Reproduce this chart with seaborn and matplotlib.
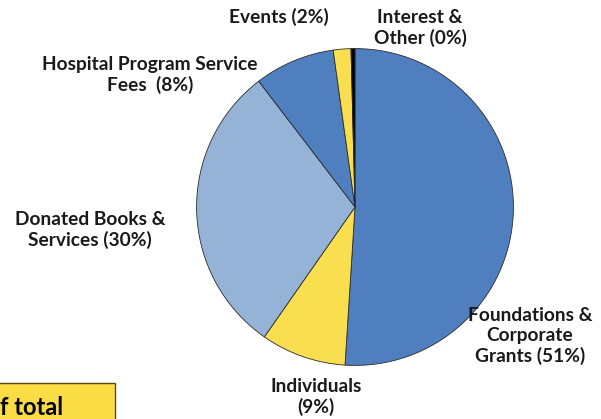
import matplotlib
matplotlib.use("Agg")
import seaborn as sns
import matplotlib.pyplot as plt
from matplotlib.patches import Rectangle

sns.set_theme(style="white")
plt.rcParams['font.family'] = ['Lato', 'DejaVu Sans']

# revenue shares, clockwise from 12 o'clock
sources = ["Foundations & Corporate Grants", "Individuals", "Donated Books & Services",
           "Hospital Program Service Fees", "Events", "Interest & Other"]
shares = [51.0, 8.7, 29.9, 8.2, 1.8, 0.4]
colors = ["#4f7fbf", "#f9de4f", "#95b3d7", "#4f7fbf", "#f9de4f", "#000000"]

# label text and where it sits (pixels in the 601x419 picture)
label_text = ["Foundations &\nCorporate\nGrants (51%)", "Individuals\n(9%)",
              "Donated Books &\nServices (30%)", "Hospital Program Service\nFees  (8%)",
              "Events (2%)", "Interest &\nOther (0%)"]
label_x = [530, 316, 90, 150, 279, 420]
label_y = [336, 397, 230, 75, 17, 28]

W, H = 601, 419
fig = plt.figure(figsize=(W / 100, H / 100), dpi=100)
fig.patch.set_facecolor("white")

cx, cy, r = 355, 207, 160
ax = fig.add_axes([(cx - r) / W, (H - cy - r) / H, 2 * r / W, 2 * r / H])
ax.pie(shares, colors=colors, startangle=90, counterclock=False, radius=1,
       wedgeprops=dict(edgecolor="#2b2b2b", linewidth=0.6))
ax.set_xlim(-1.01, 1.01)
ax.set_ylim(-1.01, 1.01)
ax.set_aspect("equal")
ax.axis("off")

for t, x, y in zip(label_text, label_x, label_y):
    fig.text(x / W, 1 - y / H, t, ha="center", va="center", fontsize=13.8,
             fontweight="bold", color="#1a1a1a", linespacing=1.18)

# cropped yellow note box at bottom left
fig.patches.append(Rectangle((-0.01, -0.05), 121 / W, (419 - 383) / H + 0.05,
                             transform=fig.transFigure, facecolor="#fadc45",
                             edgecolor="#5a4a10", linewidth=1.0))
fig.text(0 / W, 1 - 407 / H, "f total", ha="left", va="center", fontsize=17,
         fontweight="bold", color="black")

fig.savefig("out.png", dpi=100)
